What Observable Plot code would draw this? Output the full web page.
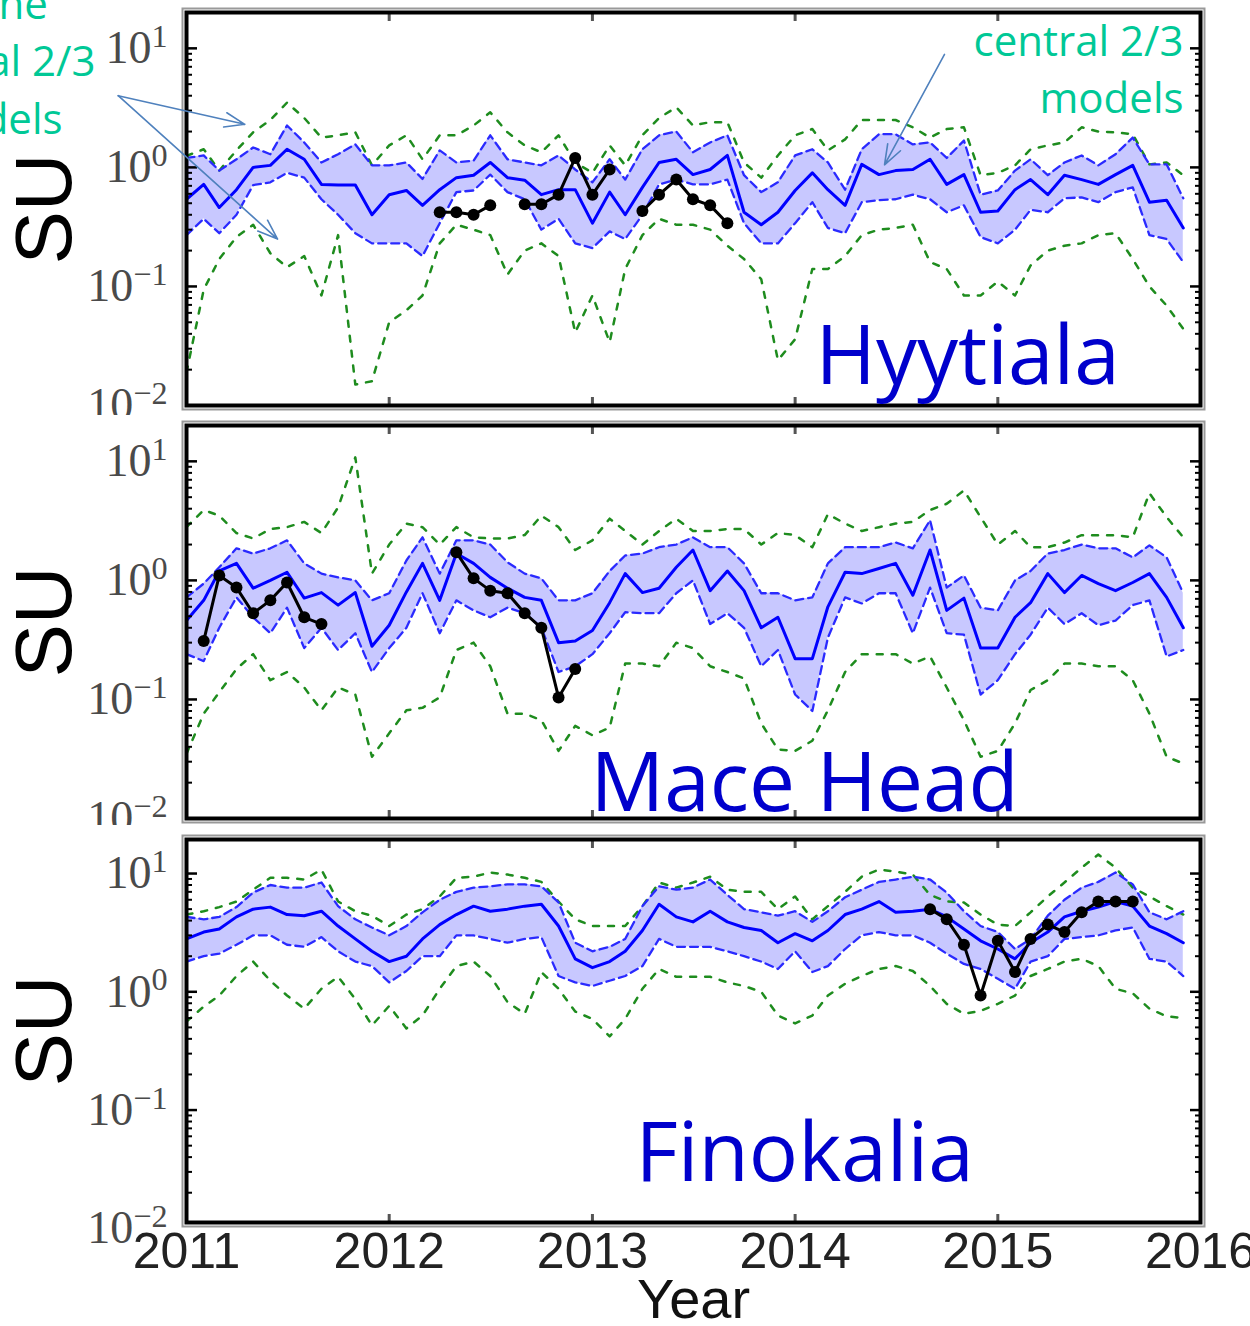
<!DOCTYPE html>
<html><head><meta charset="utf-8">
<script src="https://cdn.jsdelivr.net/npm/d3@7"></script>
<script src="https://cdn.jsdelivr.net/npm/@observablehq/plot@0.6"></script>
<style>
body{margin:0;background:#fff;}
#wrap{position:relative;width:1250px;height:1326px;overflow:hidden;background:#fff;}
#wrap svg{position:absolute;left:0;}
</style></head><body><div id="wrap"></div>
<script>
const _ = null;
// monthly time axis
const months = d3.utcMonths(new Date(Date.UTC(2011,0,1)), new Date(Date.UTC(2016,0,1)));
const yearTicks = [2011,2012,2013,2014,2015,2016].map(y => new Date(Date.UTC(y,0,1)));
const yMajor = [0.01, 0.1, 1, 10];
const yMinor = [0.02,0.03,0.04,0.05,0.06,0.07,0.08,0.09,0.2,0.3,0.4,0.5,0.6,0.7,0.8,0.9,2,3,4,5,6,7,8,9];

// ---- Hyytiala ----
const hyMed = [0.54,0.72,0.46,0.65,1.0,1.04,1.42,1.17,0.72,0.71,
 0.71,0.40,0.59,0.64,0.48,0.65,0.82,0.86,1.1,0.82,
 0.78,0.59,0.65,0.65,0.34,0.62,0.40,0.68,1.1,1.17,
 0.87,0.96,1.26,0.42,0.33,0.42,0.64,0.9,0.65,0.48,
 1.06,0.87,0.94,0.96,1.17,0.72,0.87,0.42,0.43,0.65,
 0.79,0.59,0.86,0.79,0.72,0.87,1.04,0.51,0.53,0.31];
const hyHi = [1.2,1.26,0.94,1.17,1.47,1.29,2.25,1.62,1.1,1.29,
 1.56,1.04,1.04,1.1,0.8,1.39,1.1,1.14,1.86,1.17,
 1.1,1.04,1.26,0.96,0.75,1.17,0.79,1.42,1.86,2.0,
 1.34,1.62,1.86,0.86,0.62,0.75,1.26,1.42,1.1,0.65,
 1.42,1.9,1.9,1.56,1.62,1.2,1.68,0.59,0.64,0.94,
 1.17,0.86,1.1,1.26,1.04,1.29,1.78,1.06,1.06,0.55];
const hyLo = [0.27,0.37,0.28,0.40,0.71,0.75,0.9,0.82,0.54,0.40,
 0.28,0.23,0.23,0.23,0.18,0.34,0.62,0.64,0.87,0.62,
 0.54,0.30,0.37,0.23,0.21,0.29,0.25,0.40,0.72,0.79,
 0.72,0.72,0.79,0.34,0.23,0.23,0.34,0.51,0.31,0.28,
 0.51,0.53,0.54,0.59,0.54,0.42,0.48,0.26,0.23,0.30,
 0.44,0.42,0.55,0.56,0.51,0.62,0.68,0.27,0.25,0.16];
const hyMax = [1.25,1.42,0.94,1.39,1.97,2.5,3.5,2.6,1.78,1.86,
 1.97,1.04,1.53,1.86,1.17,1.86,1.86,2.25,2.9,1.97,
 1.53,1.34,1.86,1.1,0.9,1.53,1.04,1.86,2.6,3.2,
 2.25,2.4,2.4,1.1,0.82,1.26,1.86,2.1,1.39,1.72,
 2.5,2.5,2.5,2.17,1.78,2.1,2.17,0.86,0.9,1.04,
 1.42,1.53,1.62,2.17,2.0,1.97,1.9,1.06,1.1,0.86];
const hyMin = [0.019,0.094,0.17,0.26,0.33,0.19,0.145,0.18,0.084,0.27,
 0.015,0.016,0.05,0.063,0.084,0.23,0.33,0.30,0.27,0.126,
 0.2,0.23,0.18,0.041,0.084,0.034,0.14,0.27,0.37,0.33,
 0.33,0.30,0.22,0.17,0.115,0.024,0.036,0.14,0.14,0.18,
 0.27,0.30,0.31,0.33,0.16,0.14,0.084,0.084,0.11,0.084,
 0.15,0.2,0.22,0.23,0.27,0.28,0.17,0.10,0.069,0.044];
const hyObs = [_,_,_,_,_,_,_,_,_,_,
 _,_,_,_,_,0.42,0.42,0.40,0.48,_,
 0.49,0.49,0.59,1.2,0.59,0.96,_,0.43,0.59,0.79,
 0.54,0.48,0.34,_,_,_,_,_,_,_,
 _,_,_,_,_,_,_,_,_,_,
 _,_,_,_,_,_,_,_,_,_];

// ---- Mace Head ----
const mhMed = [0.46,0.68,1.2,1.39,0.86,1.0,1.17,0.71,0.79,0.62,
 0.79,0.28,0.42,0.8,1.39,0.68,1.68,1.39,1.06,0.86,
 0.72,0.68,0.30,0.31,0.38,0.65,1.14,0.79,0.86,1.29,
 1.8,0.82,1.2,0.82,0.40,0.49,0.22,0.22,0.6,1.17,
 1.14,1.26,1.39,0.75,1.8,0.56,0.71,0.27,0.27,0.49,
 0.65,1.14,0.79,1.1,0.94,0.82,0.96,1.14,0.72,0.40];
const mhHi = [0.72,0.94,1.29,1.86,1.68,1.86,2.17,1.39,1.14,1.06,
 1.0,0.68,0.78,1.47,2.3,1.14,2.17,2.17,2.0,1.42,
 1.14,1.04,0.68,0.68,0.78,1.2,1.62,1.68,1.9,2.0,
 2.3,1.9,1.9,1.39,0.78,0.78,0.68,0.72,1.39,1.9,
 1.9,1.9,2.08,1.86,3.2,0.87,1.1,0.59,0.56,1.0,
 1.2,1.68,1.8,2.0,1.86,1.86,1.56,1.97,1.56,0.78];
const mhLo = [0.24,0.21,0.40,0.72,0.49,0.36,0.59,0.27,0.40,0.26,
 0.36,0.17,0.27,0.40,0.78,0.36,0.68,0.56,0.49,0.59,
 0.53,0.40,0.17,0.19,0.24,0.36,0.54,0.53,0.53,0.78,
 1.0,0.43,0.53,0.40,0.19,0.26,0.11,0.08,0.33,0.72,
 0.64,0.78,0.78,0.36,0.87,0.36,0.35,0.11,0.145,0.24,
 0.35,0.59,0.43,0.53,0.42,0.46,0.62,0.68,0.23,0.26];
const mhMax = [2.8,3.9,3.5,2.5,2.25,2.7,2.8,3.1,2.5,4.1,
 10.8,1.14,2.0,3.0,2.8,2.0,2.8,2.3,2.25,2.25,
 2.4,3.5,2.8,1.8,2.17,3.3,2.6,2.0,2.6,3.3,
 2.6,2.6,2.7,2.7,2.0,2.5,2.4,1.9,3.6,3.0,
 2.6,2.8,3.0,3.1,3.9,4.4,5.7,3.4,2.0,2.6,
 1.9,1.9,2.08,2.4,2.4,2.4,2.3,5.4,3.4,2.3];
const mhMin = [0.035,0.076,0.115,0.18,0.24,0.145,0.17,0.126,0.081,0.126,
 0.11,0.033,0.052,0.081,0.085,0.104,0.26,0.30,0.19,0.076,
 0.076,0.067,0.037,0.06,0.05,0.058,0.20,0.20,0.19,0.30,
 0.27,0.19,0.17,0.15,0.063,0.038,0.037,0.045,0.081,0.17,
 0.24,0.24,0.24,0.2,0.23,0.126,0.067,0.033,0.037,0.063,
 0.12,0.145,0.2,0.2,0.19,0.19,0.145,0.076,0.033,0.029];
const mhObs = [_,0.31,1.1,0.87,0.53,0.68,0.96,0.49,0.43,_,
 _,_,_,_,_,_,1.72,1.04,0.82,0.78,
 0.53,0.40,0.104,0.18,_,_,_,_,_,_,
 _,_,_,_,_,_,_,_,_,_,
 _,_,_,_,_,_,_,_,_,_,
 _,_,_,_,_,_,_,_,_,_];

// ---- Finokalia ----
const fkMed = [2.8,3.2,3.4,4.3,5.0,5.2,4.5,4.4,4.8,3.6,
 2.8,2.2,1.8,2.0,2.8,3.7,4.5,5.3,4.8,5.0,
 5.3,5.5,3.6,1.9,1.6,1.8,2.2,3.3,5.5,4.3,
 3.9,4.8,3.9,3.5,3.3,2.6,3.1,2.7,3.3,4.5,
 5.0,5.8,4.7,4.8,5.0,4.3,3.4,2.7,2.3,1.9,
 2.6,3.2,4.3,4.8,5.2,5.8,5.3,3.6,3.1,2.6];
const fkHi = [4.3,4.1,4.3,5.2,6.9,8.0,7.6,7.6,8.4,5.3,
 4.1,3.5,3.0,3.6,4.7,6.0,7.0,7.6,7.8,8.1,
 8.1,7.8,5.7,2.6,2.2,2.4,2.8,5.3,7.8,7.3,
 7.6,8.9,6.6,5.0,4.7,4.4,4.8,3.9,4.8,6.3,
 7.3,8.5,8.9,9.4,8.9,6.9,4.8,3.6,3.2,2.3,
 2.8,4.4,6.0,7.6,8.5,10.2,8.1,4.7,4.1,4.8];
const fkLo = [1.8,2.0,2.1,2.5,3.0,3.0,2.5,2.4,2.9,2.2,
 1.8,1.65,1.2,1.5,2.0,2.0,3.0,3.0,2.8,2.6,
 2.8,2.9,1.36,1.2,1.12,1.24,1.36,1.65,2.8,2.4,
 2.4,2.4,2.2,2.0,1.8,1.56,2.2,1.47,1.65,2.3,
 3.0,3.2,3.0,3.0,2.6,2.1,1.72,1.56,1.29,1.06,
 1.8,2.0,2.8,2.9,3.0,3.3,3.5,1.9,1.8,1.36];
const fkMax = [4.5,4.8,5.2,5.8,7.3,9.2,9.2,8.9,10.8,5.8,
 4.8,4.4,3.6,4.5,5.0,6.4,9.2,9.4,10.2,9.8,
 9.2,8.5,5.8,4.1,3.6,3.6,3.6,5.3,8.4,7.6,
 8.4,9.4,7.3,7.0,7.0,5.0,6.4,4.1,5.3,7.0,
 9.4,10.8,10.4,9.8,6.6,5.8,5.7,4.5,3.7,3.6,
 4.7,6.4,8.4,11.2,14.5,11.2,7.6,6.4,5.3,4.5];
const fkMin = [0.56,0.75,0.93,1.36,1.8,1.24,0.93,0.72,1.06,1.34,
 0.87,0.52,0.76,0.49,0.63,1.06,1.65,1.8,1.36,0.82,
 0.65,1.47,1.06,0.68,0.59,0.42,0.59,1.06,1.56,1.34,
 1.34,1.34,1.2,1.12,1.0,0.63,0.54,0.63,0.93,1.17,
 1.36,1.56,1.65,1.5,1.12,0.79,0.65,0.69,0.79,0.93,
 1.36,1.56,1.8,1.9,1.65,1.06,0.97,0.72,0.62,0.6];
const fkObs = [_,_,_,_,_,_,_,_,_,_,
 _,_,_,_,_,_,_,_,_,_,
 _,_,_,_,_,_,_,_,_,_,
 _,_,_,_,_,_,_,_,_,_,
 _,_,_,_,5.0,4.1,2.5,0.93,2.7,1.47,
 2.8,3.7,3.2,4.7,5.8,5.8,5.8,_,_,_];

// annotation arrows (Hyytiala panel), in data units
const arrowX1 = [new Date(Date.UTC(2010,7,31)), new Date(Date.UTC(2010,7,31)), new Date(Date.UTC(2014,8,27))];
const arrowY1 = [4.0, 4.0, 8.9];
const arrowX2 = [new Date(Date.UTC(2011,3,16)), new Date(Date.UTC(2011,5,14)), new Date(Date.UTC(2014,5,11))];
const arrowY2 = [2.3, 0.25, 1.05];

const GREEN = "#1e8c1e", BAND = "#c8c8ff", EDGE = "#2a2aff", MED = "#0000ff", NAME = "#0000cc", TEAL = "#00c896";

function panel(cfg) {
  const rows = months.map((date, i) => ({date, med: cfg.med[i], lo: cfg.lo[i], hi: cfg.hi[i], mn: cfg.mn[i], mx: cfg.mx[i], obs: cfg.obs[i]}));
  const obsRows = rows.filter(d => d.obs != null);
  const majorIn = yMajor.filter(v => v >= cfg.yDomain[0] && v <= cfg.yDomain[1]);
  const noLabel = () => "";
  const marks = [
    Plot.areaY(rows, {x: "date", y1: "lo", y2: "hi", fill: BAND}),
    Plot.lineY(rows, {x: "date", y: "mx", stroke: GREEN, strokeWidth: 2.5, strokeDasharray: "6 9"}),
    Plot.lineY(rows, {x: "date", y: "mn", stroke: GREEN, strokeWidth: 2.5, strokeDasharray: "6 9"}),
    Plot.lineY(rows, {x: "date", y: "lo", stroke: EDGE, strokeWidth: 2.3, strokeDasharray: "8 5"}),
    Plot.lineY(rows, {x: "date", y: "hi", stroke: EDGE, strokeWidth: 2.3, strokeDasharray: "8 5"}),
    Plot.lineY(rows, {x: "date", y: "med", stroke: MED, strokeWidth: 3}),
    Plot.lineY(rows, {x: "date", y: "obs", stroke: "black", strokeWidth: 3}),
    Plot.dot(obsRows, {x: "date", y: "obs", r: 6, fill: "black"}),
    // axes
    Plot.axisY(yMajor, {anchor: "left", tickSize: 0, tickPadding: 19, tickFormat: d => "10^" + Math.round(Math.log10(d)), fontSize: 46, fontFamily: "Liberation Serif", color: "#4a4a4a", label: null}),
    Plot.axisY(yMinor, {anchor: "left", tickSize: -6, tickFormat: noLabel, strokeWidth: 2, label: null}),
    Plot.axisY(majorIn, {anchor: "left", tickSize: -11, tickFormat: noLabel, strokeWidth: 2.5, label: null}),
    Plot.axisY(yMinor, {anchor: "right", tickSize: -6, tickFormat: noLabel, strokeWidth: 2, label: null}),
    Plot.axisY(majorIn, {anchor: "right", tickSize: -11, tickFormat: noLabel, strokeWidth: 2.5, label: null}),
    Plot.axisX(yearTicks, {anchor: "top", tickSize: -8, tickFormat: noLabel, strokeWidth: 3, stroke: "#555", label: null}),
    Plot.axisX(yearTicks, {anchor: "bottom", tickSize: -8, tickFormat: noLabel, strokeWidth: 3, stroke: "#555", label: null}),
    Plot.frame({stroke: "#999", strokeWidth: 2, inset: -4}),
    Plot.frame({stroke: "black", strokeWidth: 4}),
    Plot.text(["SU"], {frameAnchor: "left", dx: -141, rotate: -90, textAnchor: "middle", lineAnchor: "middle", fontSize: 80, fontFamily: "Liberation Sans", fill: "black"}),
    Plot.text([cfg.name], {frameAnchor: "top-left", dx: cfg.nameDx, dy: cfg.nameDy, textAnchor: "start", lineAnchor: "middle", fontSize: 82, fontFamily: "Open Sans", fill: NAME})
  ];
  if (cfg.showX) {
    marks.push(Plot.axisX(yearTicks, {anchor: "bottom", tickSize: 0, tickPadding: 10, tickFormat: d => String(d.getUTCFullYear()), fontSize: 50, fontFamily: "Liberation Sans", color: "#222", label: null}));
    marks.push(Plot.text(["Year"], {frameAnchor: "bottom", dy: 56, textAnchor: "middle", lineAnchor: "top", fontSize: 56, fontFamily: "Liberation Sans", fill: "#111"}));
  }
  if (cfg.extra) marks.push(...cfg.extra);
  const svg = Plot.plot({
    width: 1250, height: cfg.height,
    marginLeft: 186, marginRight: 50, marginTop: cfg.marginTop, marginBottom: cfg.marginBottom,
    x: {type: "utc", domain: [new Date(Date.UTC(2011,0,1)), new Date(Date.UTC(2016,0,1))]},
    y: {type: "log", domain: cfg.yDomain},
    style: {background: "white", overflow: "hidden"},
    marks
  });
  svg.style.top = cfg.top + "px";
  // superscript exponents for log tick labels
  d3.select(svg).selectAll('g[aria-label="y-axis tick label"] text').each(function() {
    const t = this.textContent;
    if (!t.includes("^")) return;
    const [b, e] = t.split("^");
    const s = d3.select(this);
    s.text(b);
    s.append("tspan").attr("dy", "-0.5em").attr("font-size", "0.7em").text(e.replace("-", "\u2212"));
  });
  document.getElementById("wrap").appendChild(svg);
}

const annoText = [
  {t: "of the", anchor: "top-left", dx: -196, dy: -7.4, ta: "middle"},
  {t: "central 2/3", anchor: "top-left", dx: -196, dy: 49.6, ta: "middle"},
  {t: "models", anchor: "top-left", dx: -196, dy: 107.6, ta: "middle"},
  {t: "central 2/3", anchor: "top-right", dx: -17, dy: 29.6, ta: "end"},
  {t: "models", anchor: "top-right", dx: -17, dy: 86.6, ta: "end"}
];
const hyExtra = [
  ...annoText.map(a => Plot.text([a.t], {frameAnchor: a.anchor, dx: a.dx, dy: a.dy, textAnchor: a.ta, lineAnchor: "middle", fontSize: 42, fontFamily: "Open Sans", fill: TEAL})),
  Plot.arrow(arrowX1.map((x1, i) => ({x1, y1: arrowY1[i], x2: arrowX2[i], y2: arrowY2[i]})), {x1: "x1", y1: "y1", x2: "x2", y2: "y2", stroke: "#4f81bd", strokeWidth: 1.6, headLength: 20, headAngle: 40})
];

panel({top: 0, height: 415, marginTop: 12, marginBottom: 10, yDomain: [0.01, 20], med: hyMed, lo: hyLo, hi: hyHi, mn: hyMin, mx: hyMax, obs: hyObs, name: "Hyytiala", nameDx: 629, nameDy: 345, extra: hyExtra});
panel({top: 415, height: 410, marginTop: 10, marginBottom: 7, yDomain: [0.01, 20], med: mhMed, lo: mhLo, hi: mhHi, mn: mhMin, mx: mhMax, obs: mhObs, name: "Mace Head", nameDx: 404, nameDy: 359});
panel({top: 825, height: 501, marginTop: 14, marginBottom: 104, yDomain: [0.0112, 19.4], med: fkMed, lo: fkLo, hi: fkHi, mn: fkMin, mx: fkMax, obs: fkObs, name: "Finokalia", nameDx: 449, nameDy: 315, showX: true});
</script>
</body></html>
